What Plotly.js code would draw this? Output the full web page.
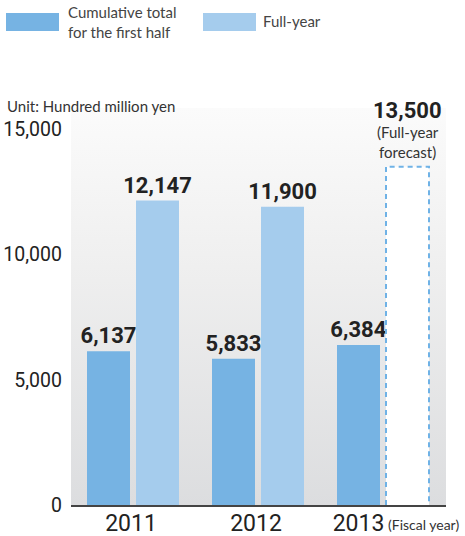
<!DOCTYPE html>
<html>
<head>
<meta charset="utf-8">
<script src="https://cdn.plot.ly/plotly-3.0.1.min.js"></script>
<style>
  html, body { margin: 0; padding: 0; background: #ffffff; }
  #wrap { position: relative; width: 465px; height: 536px; }
  #bg { position: absolute; left: 71px; top: 108px; width: 375px; height: 397px;
        background: linear-gradient(to bottom, #fbfbfb 0%, #efefef 40%, #dcdddf 100%); }
  #chart { position: absolute; left: 0; top: 0; width: 465px; height: 536px; }
</style>
</head>
<body>
<div id="wrap">
  <div id="bg"></div>
  <div id="chart"></div>
</div>
<script>
// ---- data ----
const years = ['2011', '2012', '2013'];
const firstHalf = [6137, 5833, 6384];
const fullYear = [12147, 11900, null];
const forecast = [null, null, 13500];
const yTicks = [0, 5000, 10000, 15000];

// ---- styling ----
const darkBlue = '#76b3e3';
const lightBlue = '#a5cced';
const narrow = 'Roboto, "DejaVu Sans Condensed", sans-serif';
const body = 'Lato, "Open Sans", sans-serif';
const barW = 0.344;
const off1 = -0.372;
const off2 = 0.02;
const xs = years.map((_, i) => i);
// year labels: centred on the group, except the last one which sits under its only filled bar
const tickPos = xs.map((i) => (i === xs.length - 1 ? i + off1 + barW / 2 : i - 0.02));

const fmt = v => v.toLocaleString('en-US');

const traces = [
  {
    type: 'bar', x: xs, y: firstHalf, width: barW, offset: off1,
    marker: { color: darkBlue }, hoverinfo: 'skip',
    text: firstHalf.map(fmt), textposition: 'outside', cliponaxis: false, constraintext: 'none',
    textfont: { family: narrow, size: 22, color: '#222', weight: 'bold' }
  },
  {
    type: 'bar', x: xs, y: fullYear, width: barW, offset: off2,
    marker: { color: lightBlue }, hoverinfo: 'skip',
    text: fullYear.map(v => v == null ? '' : fmt(v)), textposition: 'outside', cliponaxis: false, constraintext: 'none',
    textfont: { family: narrow, size: 22, color: '#222', weight: 'bold' }
  },
  {
    type: 'bar', x: xs, y: forecast, width: barW, offset: off2,
    marker: { color: '#ffffff' }, hoverinfo: 'skip'
  }
];

// dashed outline of forecast bar, built from forecast data
forecast.forEach((v, i) => {
  if (v == null) return;
  const a = i + off2, b = i + off2 + barW;
  traces.push({
    type: 'scatter', mode: 'lines', x: [a, a, b, b], y: [0, v, v, 0],
    line: { color: '#6fb2e6', width: 2, dash: '5px,4px' }, hoverinfo: 'skip', cliponaxis: false
  });
});

const px = p => (p - 71) / 375;
const py = p => (505 - p) / 397;

const annotations = [
  { xref: 'paper', yref: 'paper', x: px(5), y: py(106), xanchor: 'left', yanchor: 'middle',
    text: 'Unit: Hundred million yen', showarrow: false,
    font: { family: body, size: 15, color: '#333' } },
  { xref: 'paper', yref: 'paper', x: px(386), y: py(524), xanchor: 'left', yanchor: 'middle',
    text: '(Fiscal year)', showarrow: false,
    font: { family: body, size: 14, color: '#333' } }
];
forecast.forEach((v, i) => {
  if (v == null) return;
  const cx = i + off2 + barW / 2;
  annotations.push({ x: cx, y: v, yshift: 56, yanchor: 'middle', xanchor: 'center', showarrow: false,
    text: '<b>' + fmt(v) + '</b>', font: { family: narrow, size: 22, color: '#222' } });
  annotations.push({ x: cx, y: v, yshift: 25, yanchor: 'middle', xanchor: 'center', showarrow: false,
    text: '(Full-year<br>forecast)', font: { family: body, size: 15, color: '#333' } });
});
// legend (decorative)
annotations.push({ xref: 'paper', yref: 'paper', x: px(66), y: py(22), xanchor: 'left', yanchor: 'middle',
  align: 'left', showarrow: false, text: 'Cumulative total<br>for the first half',
  font: { family: body, size: 15, color: '#444' } });
annotations.push({ xref: 'paper', yref: 'paper', x: px(261), y: py(21), xanchor: 'left', yanchor: 'middle',
  align: 'left', showarrow: false, text: 'Full-year',
  font: { family: body, size: 15, color: '#444' } });

const shapes = [
  { type: 'rect', xref: 'paper', yref: 'paper', x0: px(6), x1: px(59), y0: py(31), y1: py(13),
    fillcolor: darkBlue, line: { width: 0 } },
  { type: 'rect', xref: 'paper', yref: 'paper', x0: px(203), x1: px(256), y0: py(31), y1: py(13),
    fillcolor: lightBlue, line: { width: 0 } }
];

const layout = {
  width: 465, height: 536,
  margin: { l: 71, r: 19, t: 108, b: 31 },
  paper_bgcolor: 'rgba(0,0,0,0)', plot_bgcolor: 'rgba(0,0,0,0)',
  showlegend: false, barmode: 'overlay',
  xaxis: {
    range: [-0.5, 2.5], tickvals: tickPos, ticktext: years, showgrid: false, zeroline: false,
    showline: true, linecolor: '#444', linewidth: 1.5, ticks: '', ticklabelstandoff: -3,
    tickfont: { family: narrow, size: 23, color: '#222' }, fixedrange: true
  },
  yaxis: {
    range: [0, 15840], tickvals: yTicks, tickformat: ',', showgrid: false, zeroline: false,
    showline: false, ticks: '', ticklabelstandoff: 8,
    tickfont: { family: narrow, size: 19.5, color: '#222' }, fixedrange: true
  },
  annotations: annotations,
  shapes: shapes
};

Plotly.newPlot('chart', traces, layout, { displayModeBar: false, staticPlot: true });
</script>
</body>
</html>
